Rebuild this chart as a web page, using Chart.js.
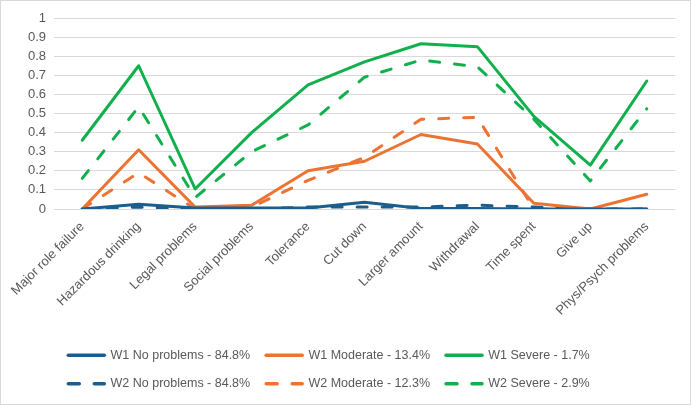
<!DOCTYPE html>
<html>
<head>
<meta charset="utf-8">
<script src="https://cdn.jsdelivr.net/npm/chart.js@4/dist/chart.umd.min.js"></script>
<style>
  html, body { margin: 0; padding: 0; background: #fff; }
  #wrap { width: 691px; height: 405px; box-sizing: border-box; border: 1px solid #d9d9d9; position: relative; }
</style>
</head>
<body>
<div id="wrap"><canvas id="c"></canvas></div>
<script>
const categories = ["Major role failure", "Hazardous drinking", "Legal problems", "Social problems", "Tolerance", "Cut down", "Larger amount", "Withdrawal", "Time spent", "Give up", "Phys/Psych problems"];
const seriesNames = ["W1 No problems - 84.8%", "W1 Moderate - 13.4%", "W1 Severe - 1.7%", "W2 No problems - 84.8%", "W2 Moderate - 12.3%", "W2 Severe - 2.9%"];
const w1NoProblems = [0, 0.025, 0.005, 0.005, 0.005, 0.035, 0.003, 0.003, 0, 0, 0];
const w1Moderate   = [0, 0.31, 0.01, 0.02, 0.20, 0.25, 0.39, 0.34, 0.03, 0, 0.077];
const w1Severe     = [0.36, 0.75, 0.105, 0.40, 0.65, 0.77, 0.865, 0.85, 0.485, 0.23, 0.67];
const w2NoProblems = [0, 0.01, 0, 0, 0.01, 0.01, 0.01, 0.02, 0.01, 0, 0];
const w2Moderate   = [0, 0.19, 0, 0.01, 0.15, 0.27, 0.47, 0.48, 0, 0, 0];
const w2Severe     = [0.16, 0.535, 0.06, 0.30, 0.44, 0.69, 0.78, 0.745, 0.47, 0.147, 0.525];
const yTicks = [0, 0.1, 0.2, 0.3, 0.4, 0.5, 0.6, 0.7, 0.8, 0.9, 1];

const BLUE = "#1b5e8c", ORANGE = "#ec7332", GREEN = "#12b04c";
const DASH = [10, 15];
const LEGEND_DASH = [11, 15];

function ds(label, data, color, dashed) {
  return {
    label, data,
    borderColor: color, backgroundColor: color,
    borderWidth: 3,
    borderDash: dashed ? DASH : [],
    borderCapStyle: 'round',
    borderJoinStyle: 'round',
    pointRadius: 0, pointHoverRadius: 0,
    tension: 0, fill: false,
    pointStyle: 'line'
  };
}

const datasets = [
  ds(seriesNames[0], w1NoProblems, BLUE, false),
  ds(seriesNames[1], w1Moderate, ORANGE, false),
  ds(seriesNames[2], w1Severe, GREEN, false),
  ds(seriesNames[3], w2NoProblems, BLUE, true),
  ds(seriesNames[4], w2Moderate, ORANGE, true),
  ds(seriesNames[5], w2Severe, GREEN, true)
];

const FONT = "'Liberation Sans', Arial, sans-serif";
const GREY = "#595959";

const legendShift = {
  id: 'legendShift',
  afterLayout(chart) {
    const lg = chart.legend;
    if (lg) { lg.left = 0; lg.right = 656; }
  }
};

new Chart(document.getElementById('c'), {
  type: 'line',
  data: { labels: categories, datasets },
  plugins: [legendShift],
  options: {
    responsive: true,
    maintainAspectRatio: false,
    animation: false,
    layout: { padding: { top: 17, right: 15, left: 0, bottom: 4 } },
    plugins: {
      tooltip: { enabled: false },
      legend: {
        position: 'bottom',
        labels: {
          usePointStyle: true,
          pointStyle: 'line',
          pointStyleWidth: 36,
          boxHeight: 13,
          padding: 16,
          color: GREY,
          font: { family: FONT, size: 12.5 },
          generateLabels(chart) {
            return chart.data.datasets.map((d, i) => ({
              text: d.label,
              datasetIndex: i,
              fillStyle: d.borderColor,
              strokeStyle: d.borderColor,
              lineWidth: 3.5,
              lineCap: 'round',
              lineDash: d.borderDash && d.borderDash.length ? LEGEND_DASH : [],
              pointStyle: 'line',
              fontColor: GREY,
              hidden: false
            }));
          }
        }
      }
    },
    scales: {
      x: {
        offset: true,
        grid: { display: false },
        border: { display: false },
        ticks: {
          color: GREY, font: { family: FONT, size: 13 },
          minRotation: 45, maxRotation: 45, autoSkip: false, padding: 2
        },
        afterFit(scale) { scale.height = 124; }
      },
      y: {
        min: 0, max: 1,
        afterBuildTicks(scale) { scale.ticks = yTicks.map(v => ({ value: v })); },
        grid: { color: "#d9d9d9", lineWidth: 1, drawTicks: false },
        border: { display: false },
        ticks: {
          color: GREY, font: { family: FONT, size: 13 }, padding: 8,
          callback: v => String(Math.round(v * 10) / 10)
        },
        afterFit(scale) { scale.width = 53; }
      }
    }
  }
});
</script>
</body>
</html>
